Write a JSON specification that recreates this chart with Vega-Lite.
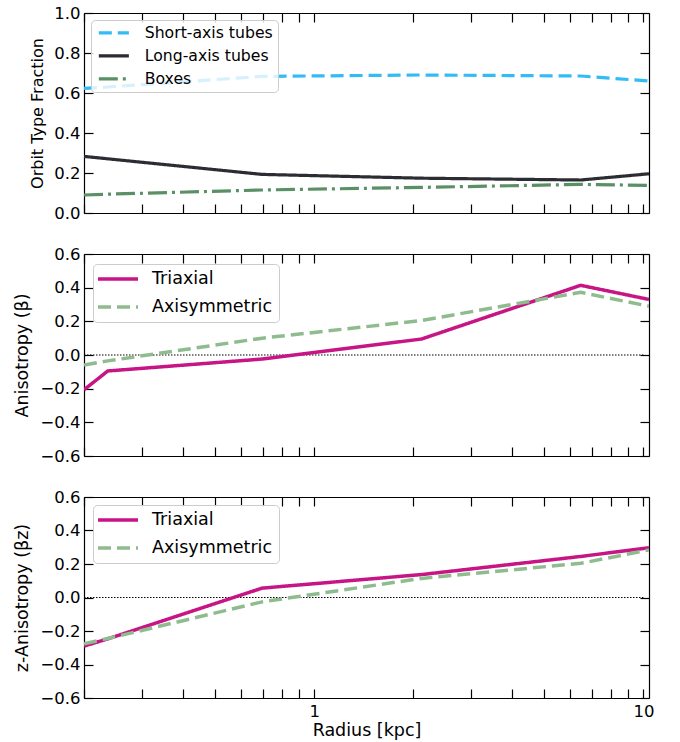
{
  "$schema": "https://vega.github.io/schema/vega-lite/v6.json",
  "padding": {"left": 12, "top": 5, "right": 5, "bottom": 5},
  "background": "white",
  "datasets": {
    "curves": [
      {"p": "orbit", "s": "Short-axis tubes", "r": 0.2, "v": 0.623},
      {"p": "orbit", "s": "Short-axis tubes", "r": 0.236, "v": 0.63},
      {"p": "orbit", "s": "Short-axis tubes", "r": 0.695, "v": 0.683},
      {"p": "orbit", "s": "Short-axis tubes", "r": 2.12, "v": 0.69},
      {"p": "orbit", "s": "Short-axis tubes", "r": 6.45, "v": 0.685},
      {"p": "orbit", "s": "Short-axis tubes", "r": 10.4, "v": 0.66},
      {"p": "orbit", "s": "Long-axis tubes", "r": 0.2, "v": 0.283},
      {"p": "orbit", "s": "Long-axis tubes", "r": 0.236, "v": 0.271},
      {"p": "orbit", "s": "Long-axis tubes", "r": 0.695, "v": 0.193},
      {"p": "orbit", "s": "Long-axis tubes", "r": 2.12, "v": 0.174},
      {"p": "orbit", "s": "Long-axis tubes", "r": 6.45, "v": 0.165},
      {"p": "orbit", "s": "Long-axis tubes", "r": 10.4, "v": 0.196},
      {"p": "orbit", "s": "Boxes", "r": 0.2, "v": 0.09},
      {"p": "orbit", "s": "Boxes", "r": 0.236, "v": 0.094},
      {"p": "orbit", "s": "Boxes", "r": 0.695, "v": 0.115},
      {"p": "orbit", "s": "Boxes", "r": 2.12, "v": 0.128},
      {"p": "orbit", "s": "Boxes", "r": 6.45, "v": 0.143},
      {"p": "orbit", "s": "Boxes", "r": 10.4, "v": 0.138},
      {"p": "beta", "s": "Triaxial", "r": 0.2, "v": -0.207},
      {"p": "beta", "s": "Triaxial", "r": 0.236, "v": -0.095},
      {"p": "beta", "s": "Triaxial", "r": 0.695, "v": -0.024},
      {"p": "beta", "s": "Triaxial", "r": 2.12, "v": 0.095},
      {"p": "beta", "s": "Triaxial", "r": 6.45, "v": 0.414},
      {"p": "beta", "s": "Triaxial", "r": 10.4, "v": 0.33},
      {"p": "beta", "s": "Axisymmetric", "r": 0.2, "v": -0.06},
      {"p": "beta", "s": "Axisymmetric", "r": 0.236, "v": -0.035},
      {"p": "beta", "s": "Axisymmetric", "r": 0.695, "v": 0.1},
      {"p": "beta", "s": "Axisymmetric", "r": 2.12, "v": 0.205},
      {"p": "beta", "s": "Axisymmetric", "r": 6.45, "v": 0.372},
      {"p": "beta", "s": "Axisymmetric", "r": 10.4, "v": 0.29},
      {"p": "betaz", "s": "Triaxial", "r": 0.2, "v": -0.29},
      {"p": "betaz", "s": "Triaxial", "r": 0.236, "v": -0.247},
      {"p": "betaz", "s": "Triaxial", "r": 0.695, "v": 0.056},
      {"p": "betaz", "s": "Triaxial", "r": 2.12, "v": 0.137},
      {"p": "betaz", "s": "Triaxial", "r": 6.45, "v": 0.245},
      {"p": "betaz", "s": "Triaxial", "r": 10.4, "v": 0.297},
      {"p": "betaz", "s": "Axisymmetric", "r": 0.2, "v": -0.276},
      {"p": "betaz", "s": "Axisymmetric", "r": 0.236, "v": -0.245},
      {"p": "betaz", "s": "Axisymmetric", "r": 0.695, "v": -0.026},
      {"p": "betaz", "s": "Axisymmetric", "r": 2.12, "v": 0.114},
      {"p": "betaz", "s": "Axisymmetric", "r": 6.45, "v": 0.204},
      {"p": "betaz", "s": "Axisymmetric", "r": 10.4, "v": 0.284}
    ],
    "zero": [{"r": 0.2, "v": 0}, {"r": 10, "v": 0}]
  },
  "vconcat": [
    {
      "width": 565, "height": 200,
      "layer": [
        {
          "data": {"name": "curves"},
          "transform": [{"filter": "datum.p == 'orbit'"}],
          "mark": {"type": "line", "strokeWidth": 3.2, "clip": true},
          "encoding": {
            "x": {"field": "r", "type": "quantitative", "scale": {"type": "log", "domain": [0.2, 10.4], "nice": false},
                  "axis": {"orient": "bottom", "values": [0.2,0.3,0.4,0.5,0.6,0.7,0.8,0.9,1,2,3,4,5,6,7,8,9,10], "labels": false, "title": null}},
            "y": {"field": "v", "type": "quantitative", "scale": {"domain": [0, 1], "nice": false, "zero": false},
                  "axis": {"orient": "left", "values": [0,0.2,0.4,0.6,0.8,1], "format": ".1f", "title": "Orbit Type Fraction", "titleX": -47, "titleFontSize": 16}},
            "color": {"field": "s", "type": "nominal",
                      "scale": {"domain": ["Short-axis tubes","Long-axis tubes","Boxes"], "range": ["#33bbf5","#2b2d33","#5a9066"]},
                      "legend": {"orient": "none", "legendX": 7, "legendY": 7, "title": null, "fillColor": "rgba(255,255,255,0.8)", "strokeColor": "#cccccc", "cornerRadius": 4, "padding": 5, "symbolOffset": 10, "symbolType": "M-2.78,0H2.78", "symbolSize": 117, "symbolStrokeWidth": 3.2, "labelFontSize": 15.7, "labelOffset": 23, "rowPadding": 6}},
            "strokeDash": {"field": "s", "type": "nominal",
                      "scale": {"domain": ["Short-axis tubes","Long-axis tubes","Boxes"], "range": [[13,6],[1,0],[19,5,3,5]]},
                      "legend": {"orient": "none", "legendX": 7, "legendY": 7, "title": null, "fillColor": "rgba(255,255,255,0.8)", "strokeColor": "#cccccc", "cornerRadius": 4, "padding": 5, "symbolOffset": 10, "symbolType": "M-2.78,0H2.78", "symbolSize": 117, "symbolStrokeWidth": 3.2, "labelFontSize": 15.7, "labelOffset": 23, "rowPadding": 6}}
          }
        },
        {
          "data": {"name": "zero"},
          "mark": {"type": "line", "opacity": 0},
          "encoding": {
            "x": {"field": "r", "type": "quantitative", "axis": {"orient": "top", "values": [0.2,0.3,0.4,0.5,0.6,0.7,0.8,0.9,1,2,3,4,5,6,7,8,9,10], "labels": false, "title": null}},
            "y": {"field": "v", "type": "quantitative", "axis": {"orient": "right", "values": [0,0.2,0.4,0.6,0.8,1], "labels": false, "title": null}}
          }
        }
      ],
      "resolve": {"axis": {"x": "independent", "y": "independent"}}
    },
    {
      "width": 565, "height": 202,
      "layer": [
        {
          "data": {"name": "zero"},
          "mark": {"type": "line", "color": "#000000", "strokeWidth": 1, "strokeDash": [1.5, 1.5]},
          "encoding": {
            "x": {"field": "r", "type": "quantitative", "scale": {"type": "log", "domain": [0.2, 10.4], "nice": false},
                  "axis": {"orient": "top", "values": [0.2,0.3,0.4,0.5,0.6,0.7,0.8,0.9,1,2,3,4,5,6,7,8,9,10], "labels": false, "title": null}},
            "y": {"field": "v", "type": "quantitative", "scale": {"domain": [-0.6, 0.6], "nice": false, "zero": false},
                  "axis": {"orient": "right", "values": [-0.6,-0.4,-0.2,0,0.2,0.4,0.6], "labels": false, "title": null}}
          }
        },
        {
          "data": {"name": "curves"},
          "transform": [{"filter": "datum.p == 'beta'"}],
          "mark": {"type": "line", "strokeWidth": 3.5, "clip": true},
          "encoding": {
            "x": {"field": "r", "type": "quantitative",
                  "axis": {"orient": "bottom", "values": [0.2,0.3,0.4,0.5,0.6,0.7,0.8,0.9,1,2,3,4,5,6,7,8,9,10], "labels": false, "title": null}},
            "y": {"field": "v", "type": "quantitative",
                  "axis": {"orient": "left", "values": [-0.6,-0.4,-0.2,0,0.2,0.4,0.6], "format": ".1f", "title": "Anisotropy (β)", "titleX": -62}},
            "color": {"field": "s", "type": "nominal",
                      "scale": {"domain": ["Triaxial","Axisymmetric"], "range": ["#c71585","#8fbc8f"]},
                      "legend": {"orient": "none", "legendX": 9, "legendY": 10, "title": null, "fillColor": "rgba(255,255,255,0.8)", "strokeColor": "#cccccc", "cornerRadius": 4, "padding": 6, "symbolOffset": 10, "symbolType": "M-2.76,0H2.76", "symbolSize": 210, "symbolStrokeWidth": 3.5, "labelFontSize": 17.5, "labelOffset": 25, "rowPadding": 10}},
            "strokeDash": {"field": "s", "type": "nominal",
                      "scale": {"domain": ["Triaxial","Axisymmetric"], "range": [[1,0],[13,6]]},
                      "legend": {"orient": "none", "legendX": 9, "legendY": 10, "title": null, "fillColor": "rgba(255,255,255,0.8)", "strokeColor": "#cccccc", "cornerRadius": 4, "padding": 6, "symbolOffset": 10, "symbolType": "M-2.76,0H2.76", "symbolSize": 210, "symbolStrokeWidth": 3.5, "labelFontSize": 17.5, "labelOffset": 25, "rowPadding": 10}}
          }
        }
      ],
      "resolve": {"axis": {"x": "independent", "y": "independent"}}
    },
    {
      "width": 565, "height": 201,
      "layer": [
        {
          "data": {"name": "zero"},
          "mark": {"type": "line", "color": "#000000", "strokeWidth": 1, "strokeDash": [1.5, 1.5]},
          "encoding": {
            "x": {"field": "r", "type": "quantitative", "scale": {"type": "log", "domain": [0.2, 10.4], "nice": false},
                  "axis": {"orient": "top", "values": [0.2,0.3,0.4,0.5,0.6,0.7,0.8,0.9,1,2,3,4,5,6,7,8,9,10], "labels": false, "title": null}},
            "y": {"field": "v", "type": "quantitative", "scale": {"domain": [-0.6, 0.6], "nice": false, "zero": false},
                  "axis": {"orient": "right", "values": [-0.6,-0.4,-0.2,0,0.2,0.4,0.6], "labels": false, "title": null}}
          }
        },
        {
          "data": {"name": "curves"},
          "transform": [{"filter": "datum.p == 'betaz'"}],
          "mark": {"type": "line", "strokeWidth": 3.5, "clip": true},
          "encoding": {
            "x": {"field": "r", "type": "quantitative",
                  "axis": {"orient": "bottom", "values": [0.2,0.3,0.4,0.5,0.6,0.7,0.8,0.9,1,2,3,4,5,6,7,8,9,10], "labelExpr": "datum.value == 1 ? '1' : (datum.value == 10 ? '10' : '')", "title": "Radius [kpc]", "titleFontSize": 17.5, "titleY": 32}},
            "y": {"field": "v", "type": "quantitative",
                  "axis": {"orient": "left", "values": [-0.6,-0.4,-0.2,0,0.2,0.4,0.6], "format": ".1f", "title": "z-Anisotropy (βz)", "titleX": -62}},
            "color": {"field": "s", "type": "nominal",
                      "scale": {"domain": ["Triaxial","Axisymmetric"], "range": ["#c71585","#8fbc8f"]},
                      "legend": {"orient": "none", "legendX": 9, "legendY": 8, "title": null, "fillColor": "rgba(255,255,255,0.8)", "strokeColor": "#cccccc", "cornerRadius": 4, "padding": 6, "symbolOffset": 10, "symbolType": "M-2.76,0H2.76", "symbolSize": 210, "symbolStrokeWidth": 3.5, "labelFontSize": 17.5, "labelOffset": 25, "rowPadding": 10}},
            "strokeDash": {"field": "s", "type": "nominal",
                      "scale": {"domain": ["Triaxial","Axisymmetric"], "range": [[1,0],[13,6]]},
                      "legend": {"orient": "none", "legendX": 9, "legendY": 8, "title": null, "fillColor": "rgba(255,255,255,0.8)", "strokeColor": "#cccccc", "cornerRadius": 4, "padding": 6, "symbolOffset": 10, "symbolType": "M-2.76,0H2.76", "symbolSize": 210, "symbolStrokeWidth": 3.5, "labelFontSize": 17.5, "labelOffset": 25, "rowPadding": 10}}
          }
        }
      ],
      "resolve": {"axis": {"x": "independent", "y": "independent"}}
    }
  ],
  "spacing": 41,
  "bounds": "flush",
  "resolve": {
    "scale": {"x": "independent", "y": "independent", "color": "independent", "strokeDash": "independent"},
    "legend": {"color": "independent", "strokeDash": "independent"}
  },
  "config": {
    "font": "DejaVu Sans",
    "view": {"stroke": null},
    "axis": {
      "grid": false,
      "domainColor": "#000000", "domainWidth": 1.2,
      "tickColor": "#000000", "tickWidth": 1.2, "tickSize": -9,
      "labelFont": "DejaVu Sans", "labelFontSize": 16.5, "labelColor": "#000000", "labelPadding": 13,
      "titleFont": "DejaVu Sans", "titleFontSize": 17.5, "titleFontWeight": "normal", "titleColor": "#000000",
      "titleBaseline": "middle"
    },
    "axisX": {"labelPadding": 14},
    "legend": {"labelFont": "DejaVu Sans", "labelColor": "#000000"}
  }
}
